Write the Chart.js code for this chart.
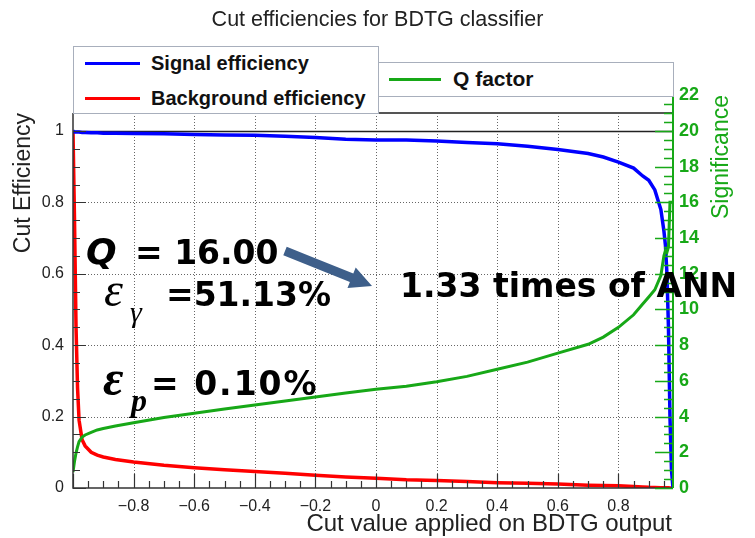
<!DOCTYPE html>
<html lang="en">
<head>
<meta charset="UTF-8">
<title>Cut efficiencies for BDTG classifier</title>
<script src="https://cdn.jsdelivr.net/npm/chart.js"></script>
<style>
  body { margin: 0; background: #fff; font-family: "Liberation Sans", Arial, sans-serif; }
  #wrap { position: relative; width: 755px; height: 538px; overflow: hidden; background: #fff; }
  #effChart { position: absolute; left: 0; top: 0; }
  .abs { position: absolute; white-space: nowrap; }
  .title { left: 0; top: 6px; width: 755px; text-align: center; font-size: 21.5px; line-height: 26px; color: #222; }
  .legend { background: #fff; border: 1px solid #a8afbc; box-sizing: border-box; }
  .legend .swatch { position: absolute; height: 3px; }
  .legend .txt { position: absolute; font-size: 20px; font-weight: bold; line-height: 24px; color: #111; }
  .xtitle { right: 83px; top: 509px; font-size: 24px; line-height: 28px; color: #222; }
  .vtitle { width: 300px; text-align: right; font-size: 23px; line-height: 28px; transform: rotate(-90deg); transform-origin: 0 0; }
  .note { font-family: "DejaVu Sans", sans-serif; font-weight: bold; font-size: 33px; line-height: 40px; color: #000; }
  .greek { font-family: "Liberation Serif", "DejaVu Serif", serif; font-style: italic; color: #000; line-height: 40px; }
</style>
</head>
<body>
<div id="wrap">
  <canvas id="effChart" width="755" height="538"></canvas>

  <div class="abs title">Cut efficiencies for BDTG classifier</div>

  <div class="abs legend" style="left:73px; top:46px; width:306px; height:68px;">
    <div class="swatch" style="left:11px; top:15px; width:55px; background:#0000ff;"></div>
    <div class="txt" style="left:77px; top:4px;">Signal efficiency</div>
    <div class="swatch" style="left:11px; top:50px; width:55px; background:#ff0000;"></div>
    <div class="txt" style="left:77px; top:39px;">Background efficiency</div>
  </div>
  <div class="abs legend" style="left:378px; top:62px; width:296px; height:35px;">
    <div class="swatch" style="left:10px; top:15px; width:52px; background:#17a817;"></div>
    <div class="txt" style="left:74px; top:4px; font-size:21px;">Q factor</div>
  </div>

  <div class="abs xtitle">Cut value applied on BDTG output</div>
  <div class="abs vtitle" style="left:8px; top:413px; color:#222;">Cut Efficiency</div>
  <div class="abs vtitle" style="left:706px; top:395px; color:#17a817;">Significance</div>

  <!-- working point annotations -->
  <div class="abs note" style="left:86px; top:232px; font-style:italic; font-size:36px;">Q</div>
  <div class="abs note" style="left:135px; top:233px;">= 16.00</div>
  <svg class="abs" style="left:0; top:0;" width="755" height="538">
    <polygon fill="#3e5f8a" points="286.7,246.8 353.3,273.6 355.7,267.6 372,286 347.5,288 349.9,282 283.3,255.2"/>
  </svg>
  <div class="abs note" style="left:400px; top:266px;">1.33 times of ANN</div>

  <div class="abs greek" style="left:104px; top:270px; font-size:48px;">ε</div>
  <div class="abs greek" style="left:130px; top:292px; font-size:30px;">γ</div>
  <div class="abs note" style="left:166px; top:275px;">=51.13%</div>

  <div class="abs greek" style="left:103px; top:358px; font-size:50px; font-weight:bold;">ε</div>
  <div class="abs greek" style="left:131px; top:380px; font-size:32px; font-weight:bold;">p</div>
  <div class="abs note" style="left:151px; top:364px; letter-spacing:2px;">= 0.10%</div>
</div>

<script>
// cut values on the BDTG output where the curves are sampled
const cutValues = [-1, -0.995, -0.99, -0.985, -0.98, -0.97, -0.96, -0.94, -0.92, -0.9,
  -0.86, -0.8, -0.7, -0.6, -0.5, -0.4, -0.3, -0.2, -0.1, 0,
  0.1, 0.2, 0.3, 0.4, 0.5, 0.6, 0.7, 0.75, 0.8, 0.85,
  0.88, 0.9, 0.92, 0.94, 0.95, 0.955, 0.96, 0.965, 0.97, 0.975, 0.98];

const signalEff = [1.0, 0.997, 0.997, 0.997, 0.997, 0.996, 0.996, 0.995, 0.995, 0.994,
  0.994, 0.993, 0.992, 0.990, 0.989, 0.988, 0.985, 0.982, 0.977, 0.975,
  0.975, 0.972, 0.968, 0.964, 0.957, 0.948, 0.937, 0.927, 0.913, 0.896,
  0.874, 0.862, 0.835, 0.78, 0.72, 0.68, 0.6, 0.45, 0.2, 0.05, 0.0];

const backgroundEff = [1.0, 0.75, 0.45, 0.28, 0.19, 0.135, 0.118, 0.100, 0.092, 0.087,
  0.080, 0.073, 0.064, 0.057, 0.051, 0.046, 0.041, 0.036, 0.031, 0.027,
  0.023, 0.021, 0.018, 0.015, 0.013, 0.011, 0.008, 0.007, 0.006, 0.004,
  0.003, 0.002, 0.0015, 0.001, 0.001, 0.001, 0.001, 0.001, 0.0, 0.0, 0.0];

const significance = [0.9, 1.5, 1.96, 2.3, 2.6, 2.85, 2.97, 3.12, 3.25, 3.33,
  3.47, 3.65, 3.95, 4.18, 4.42, 4.65, 4.87, 5.1, 5.32, 5.53,
  5.7, 5.95, 6.25, 6.65, 7.05, 7.55, 8.05, 8.45, 9.0, 9.7,
  10.3, 10.7, 11.1, 11.9, 13.0, 13.3, 13.2, 13.5, 16.0, 16.0, 16.0];

// axis tick labels
const cutTicks = [-0.8, -0.6, -0.4, -0.2, 0, 0.2, 0.4, 0.6, 0.8];
const effTicks = [0, 0.2, 0.4, 0.6, 0.8, 1];
const sigTicks = [0, 2, 4, 6, 8, 10, 12, 14, 16, 18, 20, 22];

const GREEN = '#17a817';

const points = vals => cutValues.map((x, i) => ({ x: x, y: vals[i] }));

// ROOT style frame: dotted grid, inward ticks, green significance axis
const rootFrame = {
  id: 'rootFrame',
  beforeDatasetsDraw(chart) {
    const { ctx, chartArea: a, scales: { x, y } } = chart;
    ctx.save();
    ctx.lineWidth = 1;
    ctx.strokeStyle = '#666';
    ctx.setLineDash([1, 2]);
    ctx.beginPath();
    cutTicks.forEach(v => {
      const px = Math.round(x.getPixelForValue(v)) + 0.5;
      ctx.moveTo(px, a.top);
      ctx.lineTo(px, a.bottom);
    });
    effTicks.filter(v => v > 0 && v < 1).forEach(v => {
      const py = Math.round(y.getPixelForValue(v)) + 0.5;
      ctx.moveTo(a.left, py);
      ctx.lineTo(a.right, py);
    });
    ctx.stroke();
    ctx.setLineDash([]);

    // efficiency = 1 line and top of the frame
    ctx.strokeStyle = '#222';
    ctx.lineWidth = 1.5;
    ctx.beginPath();
    const y1 = Math.round(y.getPixelForValue(1)) + 0.5;
    ctx.moveTo(a.left, y1);
    ctx.lineTo(a.right, y1);
    ctx.stroke();
    ctx.strokeStyle = '#555';
    ctx.lineWidth = 2;
    ctx.beginPath();
    ctx.moveTo(a.left, a.top);
    ctx.lineTo(a.right, a.top);
    ctx.stroke();
    ctx.restore();
  },
  afterDatasetsDraw(chart) {
    const { ctx, chartArea: a, scales: { x, y, y2 } } = chart;
    ctx.save();
    ctx.strokeStyle = '#333';
    ctx.lineWidth = 1.5;

    // left and bottom axis lines
    ctx.beginPath();
    ctx.moveTo(a.left, a.top);
    ctx.lineTo(a.left, a.bottom);
    ctx.lineTo(a.right, a.bottom);
    ctx.stroke();

    ctx.lineWidth = 1.2;
    ctx.beginPath();
    for (let k = 0; k <= 21; k++) {
      const py = Math.round(y.getPixelForValue(k * 0.05)) + 0.5;
      ctx.moveTo(a.left, py);
      ctx.lineTo(a.left + (k % 4 === 0 ? 13 : 7), py);
    }
    for (let k = 0; k <= 39; k++) {
      const v = -1 + k * 0.05;
      const px = Math.round(x.getPixelForValue(v)) + 0.5;
      ctx.moveTo(px, a.bottom);
      ctx.lineTo(px, a.bottom - (k % 4 === 0 ? 14 : 7));
    }
    ctx.stroke();

    // significance axis, running past the frame up to 22
    ctx.strokeStyle = GREEN;
    ctx.lineWidth = 2;
    const top22 = y2.getPixelForValue(22);
    ctx.beginPath();
    ctx.moveTo(a.right, a.bottom);
    ctx.lineTo(a.right, top22);
    ctx.stroke();
    ctx.lineWidth = 1.5;
    ctx.beginPath();
    for (let k = 0; k <= 44; k++) {
      const py = Math.round(y2.getPixelForValue(k * 0.5)) + 0.5;
      ctx.moveTo(a.right, py);
      ctx.lineTo(a.right - (k % 4 === 0 ? 18 : 9), py);
    }
    ctx.stroke();
    ctx.restore();
  }
};

const fmt = v => {
  const r = Math.round(v * 10) / 10;
  return r < 0 ? '\u2212' + String(-r) : String(r);
};

new Chart(document.getElementById('effChart'), {
  type: 'line',
  data: {
    datasets: [
      {
        label: 'Q factor',
        data: points(significance),
        yAxisID: 'y2',
        borderColor: GREEN,
        borderWidth: 3,
        pointRadius: 0,
        tension: 0
      },
      {
        label: 'Signal efficiency',
        data: points(signalEff),
        yAxisID: 'y',
        borderColor: '#0000ff',
        borderWidth: 3.5,
        pointRadius: 0,
        tension: 0
      },
      {
        label: 'Background efficiency',
        data: points(backgroundEff),
        yAxisID: 'y',
        borderColor: '#ff0000',
        borderWidth: 3.5,
        pointRadius: 0,
        tension: 0
      }
    ]
  },
  options: {
    responsive: false,
    animation: false,
    layout: { padding: { top: 113, left: 0, right: 0, bottom: 0 } },
    plugins: { legend: { display: false }, tooltip: { enabled: false } },
    scales: {
      x: {
        type: 'linear',
        min: -1,
        max: 0.98,
        grid: { display: false, drawTicks: false },
        border: { display: false },
        afterBuildTicks: s => { s.ticks = cutTicks.map(v => ({ value: v })); },
        afterFit: s => { s.height = 50; },
        ticks: {
          padding: 9, autoSkip: false, maxRotation: 0, color: '#222',
          font: { family: 'Liberation Sans', size: 16 },
          callback: v => fmt(v)
        }
      },
      y: {
        type: 'linear',
        position: 'left',
        min: 0,
        max: 1.0504,
        grid: { display: false, drawTicks: false },
        border: { display: false },
        afterBuildTicks: s => { s.ticks = effTicks.map(v => ({ value: v })); },
        afterFit: s => { s.width = 73; },
        ticks: {
          padding: 9, autoSkip: false, color: '#222',
          font: { family: 'Liberation Sans', size: 16 },
          callback: v => fmt(v)
        }
      },
      y2: {
        type: 'linear',
        position: 'right',
        min: 0,
        max: 21.0,
        grid: { display: false, drawTicks: false },
        border: { display: false },
        afterBuildTicks: s => { s.ticks = sigTicks.map(v => ({ value: v })); },
        afterFit: s => { s.width = 82; },
        ticks: {
          padding: 6, autoSkip: false, color: GREEN,
          font: { family: 'Liberation Sans', size: 18, weight: 'bold' },
          callback: v => String(v)
        }
      }
    }
  },
  plugins: [rootFrame]
});
</script>
</body>
</html>
